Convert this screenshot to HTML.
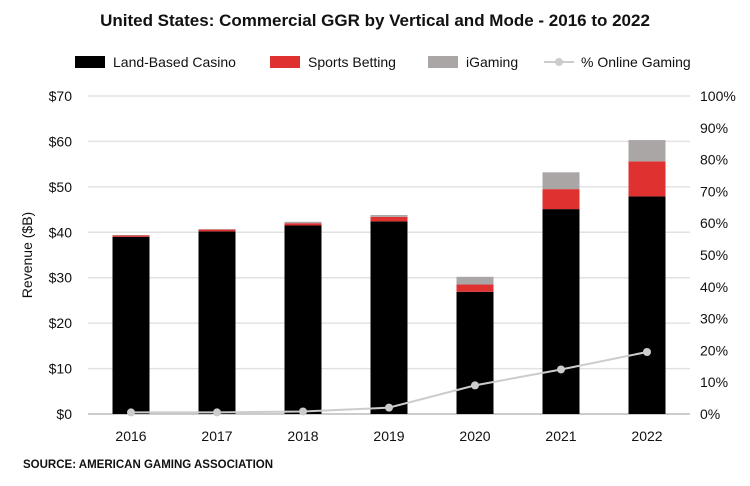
<!DOCTYPE html>
<html><head><meta charset="utf-8"><style>
body{margin:0;background:#fff;font-family:"Liberation Sans",sans-serif}
</style></head><body>
<svg id="c" width="750" height="481" xmlns="http://www.w3.org/2000/svg" style="font-family:'Liberation Sans',sans-serif">
<text x="375" y="26" text-anchor="middle" font-size="17" font-weight="bold" fill="#111">United States: Commercial GGR by Vertical and Mode - 2016 to 2022</text>
<g font-size="14" fill="#111">
<rect x="75" y="56" width="30" height="12" fill="#000"/>
<text x="113" y="67">Land-Based Casino</text>
<rect x="270" y="56" width="30" height="12" fill="#e03131"/>
<text x="308" y="67">Sports Betting</text>
<rect x="428" y="56" width="30" height="12" fill="#aaa6a6"/>
<text x="466" y="67">iGaming</text>
<line x1="544" y1="62" x2="574" y2="62" stroke="#ccc" stroke-width="2"/>
<circle cx="559" cy="62" r="4" fill="#ccc"/>
<text x="581" y="67">% Online Gaming</text>
</g>
<text transform="translate(32,255) rotate(-90)" text-anchor="middle" font-size="14" fill="#111">Revenue ($B)</text>
<g id="grid"></g><g id="bars"></g><g id="line"></g><g id="axes"></g>
<text x="23" y="468" font-size="11.5" font-weight="bold" fill="#111">SOURCE: AMERICAN GAMING ASSOCIATION</text>
</svg>
<script>
const years=["2016","2017","2018","2019","2020","2021","2022"];
const landBased=[39.0,40.2,41.5,42.4,26.9,45.1,47.9];
const sportsBetting=[0.3,0.4,0.5,1.0,1.6,4.4,7.7];
const iGaming=[0.1,0.1,0.3,0.4,1.7,3.7,4.7];
const onlinePct=[0.5,0.5,0.8,2.0,9.0,14.0,19.5];
const leftTicks=[0,10,20,30,40,50,60,70];
const rightTicks=[0,10,20,30,40,50,60,70,80,90,100];
const NS="http://www.w3.org/2000/svg";
const x0=88,x1=690,yB=414,yT=96;
const y=v=>yB-(v/70)*(yB-yT);
const yp=v=>yB-(v/100)*(yB-yT);
const band=(x1-x0)/years.length;
const xc=i=>x0+band*(i+0.5);
function mk(t,a,p){const e=document.createElementNS(NS,t);for(const k in a)e.setAttribute(k,a[k]);document.getElementById(p).appendChild(e);return e;}
leftTicks.forEach(v=>{
 const g=mk("line",{x1:x0,x2:x1,y1:y(v),y2:y(v),stroke:v===0?"#bbb":"#e2e2e2","stroke-width":1.5},"grid");
 
 
 const t=mk("text",{x:72,y:y(v)+5,"text-anchor":"end","font-size":14,fill:"#111"},"axes");t.textContent="$"+v;
 
 
});
rightTicks.forEach(v=>{
 const t=mk("text",{x:700,y:yp(v)+5,"font-size":14,fill:"#111"},"axes");t.textContent=v+"%";
 
 
});
const bw=37;
years.forEach((yr,i)=>{
 const t=mk("text",{x:xc(i),y:441,"text-anchor":"middle","font-size":14,fill:"#111"},"axes");t.textContent=yr;
 
 
 let base=0;
 [[landBased,"#000","bar-land"],[sportsBetting,"#e03131","bar-sports"],[iGaming,"#aaa6a6","bar-igaming"]].forEach(([arr,c,n])=>{
  const top=base+arr[i];
  const r=mk("rect",{x:xc(i)-bw/2,y:y(top),width:bw,height:y(base)-y(top),fill:c},"bars");
  
  
  base=top;
 });
});
const pts=onlinePct.map((v,i)=>xc(i)+","+yp(v)).join(" ");
const pl=mk("polyline",{points:pts,fill:"none",stroke:"#ccc","stroke-width":2},"line");


onlinePct.forEach((v,i)=>{
 const c=mk("circle",{cx:xc(i),cy:yp(v),r:4,fill:"#ccc"},"line");
 
 
});
</script>
</body></html>
